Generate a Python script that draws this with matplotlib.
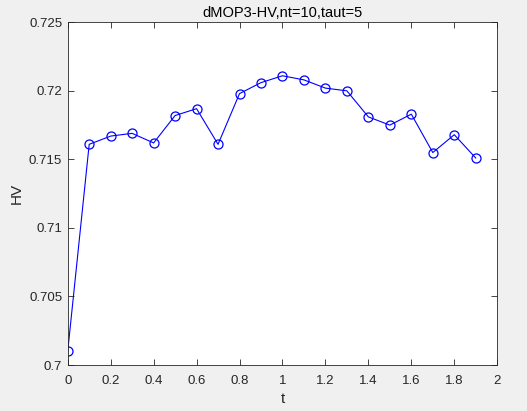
import matplotlib
matplotlib.use("Agg")
import matplotlib.pyplot as plt

t = [0.0, 0.1, 0.2, 0.3, 0.4, 0.5, 0.6, 0.7, 0.8, 0.9,
     1.0, 1.1, 1.2, 1.3, 1.4, 1.5, 1.6, 1.7, 1.8, 1.9]
hv = [0.7010, 0.7161, 0.7167, 0.7169, 0.7162, 0.7182, 0.7187, 0.7161, 0.7198, 0.7206,
      0.7211, 0.7208, 0.7202, 0.7200, 0.7181, 0.7175, 0.7183, 0.7155, 0.7168, 0.7151]

x_ticks = [0, 0.2, 0.4, 0.6, 0.8, 1, 1.2, 1.4, 1.6, 1.8, 2]
x_labels = ["0", "0.2", "0.4", "0.6", "0.8", "1", "1.2", "1.4", "1.6", "1.8", "2"]
y_ticks = [0.7, 0.705, 0.71, 0.715, 0.72, 0.725]
y_labels = ["0.7", "0.705", "0.71", "0.715", "0.72", "0.725"]

plt.rcParams["font.family"] = ["Liberation Sans", "DejaVu Sans"]

fig = plt.figure(figsize=(5.27, 4.11), dpi=100, facecolor="#f0f0f0")
ax = fig.add_axes([0.1285, 0.1119, 0.815, 0.8338])

ax.plot(t, hv, color="#0000ff", linewidth=0.8, marker="o", markersize=6.5,
        markerfacecolor="none", markeredgecolor="#0000ff", markeredgewidth=0.9)

ax.set_xlim(0, 2)
ax.set_ylim(0.7, 0.725)
ax.set_xticks(x_ticks)
ax.set_xticklabels(x_labels)
ax.set_yticks(y_ticks)
ax.set_yticklabels(y_labels)
ax.tick_params(direction="in", top=True, right=True, length=4, width=0.6,
               labelsize=9.5, colors="#262626", pad=4)
ax.tick_params(axis="x", pad=7)
for s in ax.spines.values():
    s.set_linewidth(0.6)
    s.set_color("#262626")

ax.set_xlabel("t", fontsize=11, color="#262626", labelpad=4)
ax.set_ylabel("HV", fontsize=11, color="#262626", labelpad=4)
ax.set_title("dMOP3-HV,nt=10,taut=5", fontsize=10.5, color="black", pad=4)

fig.savefig("out.png", dpi=100, facecolor=fig.get_facecolor())
